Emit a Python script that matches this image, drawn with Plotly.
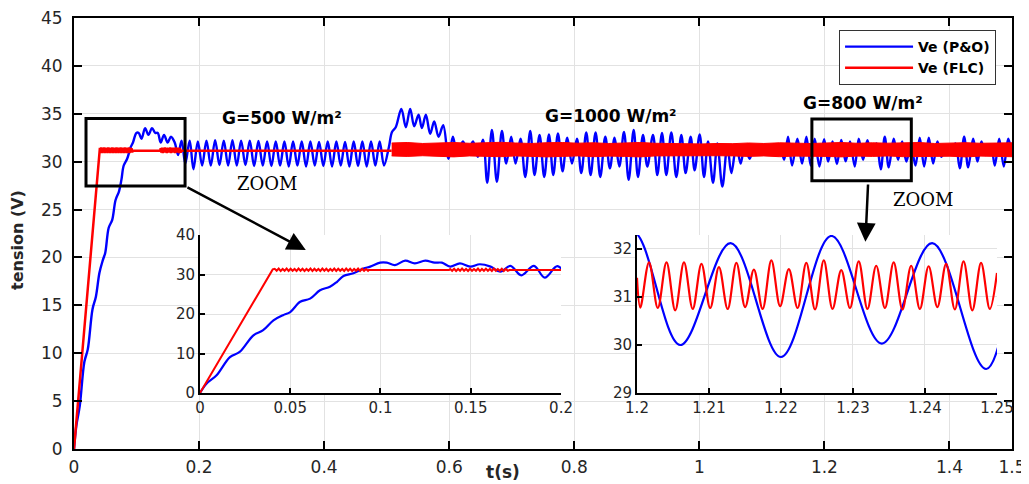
import numpy as np
import plotly.graph_objects as go

# ---------------- data ----------------
# P&O voltage, start-up (0 .. 0.2 s)
blue_start_t = [0, 0.0037, 0.0092, 0.0166, 0.022, 0.0296, 0.035, 0.0407, 0.046, 0.05, 0.0555,
                0.061, 0.0665, 0.072, 0.0758, 0.0795, 0.085, 0.0906, 0.0943, 0.0998, 0.1035,
                0.108, 0.1137, 0.119, 0.1248, 0.13, 0.134, 0.1386, 0.144, 0.1497, 0.155, 0.161,
                0.1664, 0.172, 0.178, 0.185, 0.191, 0.198]
blue_start_v = [0, 2.4, 4.5, 9.1, 10.4, 14.6, 15.9, 18.4, 19.7, 20.5, 23.1,
                23.9, 26.0, 26.9, 28.1, 29.6, 30.3, 31.5, 32.0, 33.0, 33.0,
                32.4, 33.5, 32.8, 33.5, 33.0, 33.0, 32.0, 32.8, 32.0, 32.6, 32.0,
                30.7, 32.2, 29.8, 32.2, 29.2, 32.1]

# P&O voltage, G=500 steady oscillation: extreme values every half period
blue_reg_t0 = 0.2049
blue_reg_dt = 0.006925
blue_reg_v = [29.6, 32.2, 29.6, 32.25, 29.65, 32.2, 29.6, 32.25, 29.6, 32.2, 29.65,
              32.2, 29.55, 32.15, 29.6, 32.1, 29.55, 32.1, 29.6, 32.1, 29.5, 32.1,
              29.6, 32.1, 29.5, 32.1, 29.6, 32.05, 29.55, 32.1, 29.5, 32.1, 29.6,
              32.05, 29.5, 32.1, 29.55, 32.1, 29.5, 32.1, 29.6, 32.1, 29.6]

# P&O voltage, G=1000 and G=800 parts (time, value) at the extremes
blue_late = [
    (0.5035, 31.5), (0.5085, 33.1), (0.5145, 33.6), (0.5235, 35.5), (0.5307, 33.6),
    (0.5376, 35.5), (0.544, 33.7), (0.551, 34.9), (0.5563, 33.5), (0.5627, 34.9),
    (0.5696, 32.9), (0.576, 34.2), (0.583, 32.6), (0.5904, 33.8), (0.599, 30.3),
    (0.6059, 32.6), (0.6128, 30.8), (0.622, 32.1), (0.630, 30.9), (0.638, 32.1),
    (0.6459, 30.5), (0.654, 32.3), (0.6608, 27.8), (0.6683, 33.3), (0.6763, 27.9),
    (0.6843, 33.2), (0.6912, 29.8), (0.6992, 32.6), (0.7061, 29.8), (0.7141, 32.4),
    (0.7216, 28.4), (0.7296, 33.2), (0.7365, 28.6), (0.7445, 32.8), (0.752, 28.4),
    (0.7595, 32.85), (0.7664, 28.6), (0.7739, 32.95), (0.7813, 29.0), (0.7888, 32.5),
    (0.7963, 29.8), (0.8043, 32.4), (0.8112, 28.8), (0.8192, 33.05), (0.8261, 28.6),
    (0.8341, 33.05), (0.8416, 28.4), (0.8496, 32.6), (0.857, 29.3), (0.8645, 32.5),
    (0.872, 29.5), (0.8795, 33.1), (0.887, 28.1), (0.895, 33.3), (0.9019, 28.4),
    (0.9099, 32.8), (0.9168, 29.5), (0.9259, 32.8), (0.9328, 28.6), (0.9403, 33.0),
    (0.9472, 28.6), (0.9552, 33.05), (0.9632, 28.4), (0.9712, 32.8), (0.9781, 28.8),
    (0.9861, 32.6), (0.9925, 29.1), (1.0005, 32.85), (1.0075, 28.4), (1.0139, 32.1),
    (1.0219, 27.8), (1.0288, 31.9), (1.0368, 27.4), (1.0448, 31.7), (1.0512, 28.8),
    (1.0592, 31.7), (1.0661, 29.8), (1.0725, 31.7), (1.0805, 30.3), (1.0875, 31.6),
    (1.0945, 30.8), (1.1015, 31.6), (1.1085, 30.8), (1.1155, 31.7), (1.1225, 30.7),
    (1.129, 31.8), (1.1355, 30.2), (1.1419, 32.6), (1.1483, 29.6), (1.1568, 32.4),
    (1.1643, 29.8), (1.1712, 32.6), (1.1781, 29.6), (1.1845, 32.4), (1.192, 29.5),
    (1.1995, 32.35), (1.206, 30.0), (1.213, 32.12), (1.220, 29.75), (1.227, 32.27),
    (1.234, 30.03), (1.241, 32.12), (1.2485, 29.5), (1.2549, 32.4), (1.2619, 30.2),
    (1.2688, 32.25), (1.2752, 30.7), (1.2832, 31.9), (1.2901, 29.2), (1.2965, 32.6),
    (1.3029, 29.4), (1.3109, 32.4), (1.3179, 30.2), (1.3243, 32.1), (1.3312, 30.0),
    (1.3381, 31.9), (1.3456, 29.6), (1.3525, 32.5), (1.3595, 29.5), (1.3669, 32.5),
    (1.3739, 29.8), (1.3808, 32.1), (1.3872, 30.5), (1.3952, 31.7), (1.4021, 31.0),
    (1.4096, 31.9), (1.4165, 29.3), (1.4235, 32.6), (1.4299, 29.4), (1.4379, 32.4),
    (1.4448, 30.0), (1.4512, 32.1), (1.4576, 30.7), (1.4661, 31.8), (1.4725, 29.6),
    (1.4795, 32.4), (1.4869, 29.5), (1.4939, 32.4), (1.5, 30.8)]

# FLC voltage
red_ramp_t = [0.0, 0.0403]
red_ramp_v = [0.0, 31.3]
red_rip1_t0 = 0.0414
red_rip1_dt = 0.0011
red_rip1_v = [31.45, 30.95, 31.5, 30.9, 31.4, 30.95, 31.5, 30.9, 31.45, 30.95, 31.4, 30.9,
              31.5, 30.95, 31.45, 30.9, 31.4, 30.95, 31.5, 30.9, 31.45, 30.95, 31.4, 30.9,
              31.5, 30.95, 31.45, 30.9, 31.4, 30.95, 31.5, 30.9, 31.45, 30.95, 31.4, 30.9,
              31.5, 30.95, 31.45, 30.9, 31.4, 30.95, 31.5, 30.9, 31.45, 30.95, 31.4, 30.95]
red_flat_v = 31.15
red_flat1_t = [0.0935, 0.138]
red_rip2_t0 = 0.1386
red_rip2_dt = 0.0011
red_rip2_v = [31.4, 30.95, 31.45, 30.9, 31.4, 30.95, 31.5, 30.95, 31.4, 30.9, 31.45, 30.95,
              31.4, 30.95, 31.5, 30.9, 31.4, 30.95, 31.45, 30.95, 31.4, 30.9, 31.5, 30.95,
              31.4, 30.95, 31.45, 30.9, 31.4, 30.95]
red_flat2_t = [0.1715, 0.508]
# FLC ripple envelope after the irradiance step (dense ripple drawn as a band)
band_t = np.linspace(0.508, 1.5, 41)
band_hi = [31.95, 32.0, 31.9, 31.95, 32.0, 31.92, 31.97, 32.02, 31.95, 31.9, 31.98, 32.0,
           31.93, 31.97, 31.9, 31.95, 32.0, 31.92, 31.88, 31.9, 31.85, 31.9, 31.88, 31.95,
           31.9, 31.97, 31.93, 31.9, 31.95, 32.0, 31.92, 31.97, 31.93, 31.95, 32.0, 31.9,
           31.95, 31.98, 31.92, 31.95, 31.97]
band_lo = [30.6, 30.55, 30.62, 30.58, 30.5, 30.6, 30.55, 30.52, 30.6, 30.57, 30.5, 30.55,
           30.6, 30.52, 30.58, 30.55, 30.5, 30.6, 30.62, 30.6, 30.65, 30.62, 30.6, 30.55,
           30.6, 30.52, 30.58, 30.6, 30.55, 30.5, 30.58, 30.55, 30.6, 30.52, 30.55, 30.6,
           30.57, 30.5, 30.58, 30.55, 30.52]
# FLC ripple in the 1.2-1.25 s zoom (troughs/peaks alternating)
red_zoom_start = (1.2, 31.4)
red_zoom_end = (1.25, 31.5)
red_zoom_t0 = 1.20046
red_zoom_dt = 0.0012135
red_zoom_v = [30.78, 31.72, 30.77, 31.72, 30.72, 31.72, 30.75, 31.69, 30.77, 31.62,
              30.75, 31.71, 30.79, 31.57, 30.75, 31.76, 30.81, 31.58, 30.77, 31.71,
              30.74, 31.76, 30.75, 31.56, 30.77, 31.74, 30.75, 31.65, 30.77, 31.72,
              30.74, 31.65, 30.75, 31.64, 30.79, 31.69, 30.74, 31.74, 30.72, 31.71, 30.75]

main_xticks = [0, 0.2, 0.4, 0.6, 0.8, 1, 1.2, 1.4, 1.5]
main_xlabels = ["0", "0.2", "0.4", "0.6", "0.8", "1", "1.2", "1.4", "1.5"]
zoom1_xticks = [0, 0.05, 0.1, 0.15, 0.2]
zoom1_xlabels = ["0", "0.05", "0.1", "0.15", "0.2"]
zoom2_xticks = [1.2, 1.21, 1.22, 1.23, 1.24, 1.25]
zoom2_xlabels = ["1.2", "1.21", "1.22", "1.23", "1.24", "1.25"]
labels = ["Ve (P&O)", "Ve (FLC)"]

# ---------------- assemble series ----------------
blue_t = list(blue_start_t) + [blue_reg_t0 + i * blue_reg_dt for i in range(len(blue_reg_v))] \
    + [p[0] for p in blue_late]
blue_v = list(blue_start_v) + list(blue_reg_v) + [p[1] for p in blue_late]

red_t = (red_ramp_t + [red_rip1_t0 + i * red_rip1_dt for i in range(len(red_rip1_v))]
         + red_flat1_t + [red_rip2_t0 + i * red_rip2_dt for i in range(len(red_rip2_v))]
         + red_flat2_t)
red_v = (red_ramp_v + red_rip1_v + [red_flat_v] * len(red_flat1_t) + red_rip2_v
         + [red_flat_v] * len(red_flat2_t))

rz_t = [red_zoom_start[0]] + [red_zoom_t0 + i * red_zoom_dt for i in range(len(red_zoom_v))] + [red_zoom_end[0]]
rz_v = [red_zoom_start[1]] + red_zoom_v + [red_zoom_end[1]]

BLUE = "#0000ff"
RED = "#ff0000"
TXT = "#262626"
GRID = "#e2e2e2"
FONT = "DejaVu Sans"

fig = go.Figure()
# main
fig.add_trace(go.Scatter(x=blue_t, y=blue_v, mode="lines", name=labels[0],
                         line=dict(color=BLUE, width=2.4, shape="spline", smoothing=1.0),
                         xaxis="x", yaxis="y"))
fig.add_trace(go.Scatter(x=red_t, y=red_v, mode="lines", name=labels[1],
                         line=dict(color=RED, width=2.5), xaxis="x", yaxis="y"))
fig.add_trace(go.Scatter(x=band_t, y=band_lo, mode="lines", showlegend=False,
                         line=dict(color=RED, width=1), xaxis="x", yaxis="y"))
fig.add_trace(go.Scatter(x=band_t, y=band_hi, mode="lines", showlegend=False, fill="tonexty",
                         fillcolor=RED, line=dict(color=RED, width=1), xaxis="x", yaxis="y"))
# inset 1
fig.add_trace(go.Scatter(x=blue_t, y=blue_v, mode="lines", showlegend=False,
                         line=dict(color=BLUE, width=2.2, shape="spline"), xaxis="x2", yaxis="y2"))
fig.add_trace(go.Scatter(x=red_t, y=red_v, mode="lines", showlegend=False,
                         line=dict(color=RED, width=2), xaxis="x2", yaxis="y2"))
# inset 2
fig.add_trace(go.Scatter(x=blue_t, y=blue_v, mode="lines", showlegend=False,
                         line=dict(color=BLUE, width=2.2, shape="spline"), xaxis="x3", yaxis="y3"))
fig.add_trace(go.Scatter(x=rz_t, y=rz_v, mode="lines", showlegend=False,
                         line=dict(color=RED, width=2.2, shape="spline"), xaxis="x3", yaxis="y3"))

tickfont_main = dict(family=FONT, size=17, color=TXT)
tickfont_in = dict(family=FONT, size=15, color=TXT)

common_main = dict(showline=True, linecolor="black", linewidth=2, mirror="ticks",
                   ticks="inside", ticklen=8, tickwidth=1.5, tickcolor="black",
                   showgrid=True, gridcolor=GRID, gridwidth=1, zeroline=False,
                   tickfont=tickfont_main, ticklabeloverflow="allow")
common_in = dict(showline=True, linecolor="black", linewidth=2, mirror=False,
                 ticks="inside", ticklen=5, tickwidth=1.5, tickcolor="black",
                 showgrid=True, gridcolor=GRID, gridwidth=1, zeroline=False,
                 tickfont=tickfont_in, ticklabeloverflow="allow")

in_x1 = [0.1343, 0.5192]
in_x2 = [0.6002, 0.984]
in_y = [0.1299, 0.4965]

# the page adds an 8px body margin: figure sized so that the plot lands where the reference has it
fig.update_layout(
    width=1021, height=476,
    margin=dict(l=66, r=17, t=10, b=35, autoexpand=False),
    paper_bgcolor="white", plot_bgcolor="white",
    xaxis=dict(domain=[0, 1], range=[0, 1.5], tickvals=main_xticks, ticktext=main_xlabels,
               ticklabelstandoff=2, **common_main),
    yaxis=dict(domain=[0, 1], range=[0, 45], dtick=5, ticklabelstandoff=6, **common_main),
    xaxis2=dict(domain=in_x1, anchor="y2", range=[0, 0.2], tickvals=zoom1_xticks,
                ticktext=zoom1_xlabels, **common_in),
    yaxis2=dict(domain=in_y, anchor="x2", range=[0, 40], dtick=10, **common_in),
    xaxis3=dict(domain=in_x2, anchor="y3", range=[1.2, 1.25], tickvals=zoom2_xticks,
                ticktext=zoom2_xlabels, **common_in),
    yaxis3=dict(domain=in_y, anchor="x3", range=[29, 32.29], tickvals=[29, 30, 31, 32], **common_in),
    legend=dict(x=0.983, y=0.972, xanchor="right", yanchor="top", bgcolor="white",
                bordercolor="#333333", borderwidth=1, itemwidth=68, traceorder="normal",
                font=dict(family=FONT, size=14, color="black", weight="bold"),
                tracegroupgap=0),
    showlegend=True,
)

# zoom boxes
fig.add_shape(type="rect", xref="x", yref="y", x0=0.0192, x1=0.1776, y0=27.45, y1=34.5,
              line=dict(color="black", width=3), layer="above")
fig.add_shape(type="rect", xref="x", yref="y", x0=1.180, x1=1.339, y0=28.0, y1=34.45,
              line=dict(color="black", width=3), layer="above")

# arrows
fig.add_annotation(x=0.3707, y=20.77, ax=0.179, ay=27.4, xref="x", yref="y", axref="x", ayref="y",
                   text="", showarrow=True, arrowhead=2, arrowsize=1.5, arrowwidth=2.5,
                   arrowcolor="black", standoff=0)
fig.add_annotation(x=1.2656, y=21.64, ax=1.2699, ay=27.77, xref="x", yref="y", axref="x", ayref="y",
                   text="", showarrow=True, arrowhead=2, arrowsize=1.5, arrowwidth=2.5,
                   arrowcolor="black", standoff=0)

# text
gfont = dict(family=FONT, size=17, color="black", weight="bold")
zfont = dict(family="DejaVu Serif", size=18, color="black")
for txt, x, y in [("G=500 W/m²", 0.332, 34.55), ("G=1000 W/m²", 0.859, 34.8), ("G=800 W/m²", 1.2624, 36.1)]:
    fig.add_annotation(x=x, y=y, xref="x", yref="y", text=txt, showarrow=False, font=gfont,
                       xanchor="center", yanchor="middle")
for x, y in [(0.3088, 27.77), (1.358, 26.0)]:
    fig.add_annotation(x=x, y=y, xref="x", yref="y", text="ZOOM", showarrow=False, font=zfont,
                       xanchor="center", yanchor="middle")

fig.add_annotation(x=-0.0597, y=0.485, xref="paper", yref="paper", text="tension (V)", textangle=-90,
                   xanchor="center", yanchor="middle",
                   showarrow=False, font=dict(family=FONT, size=16, color=TXT, weight="bold"))
fig.add_annotation(x=0.4574, y=-0.0534, xref="paper", yref="paper", text="t(s)",
                   xanchor="center", yanchor="middle",
                   showarrow=False, font=dict(family=FONT, size=17, color=TXT, weight="bold"))

fig.write_html("out.html", config={"displayModeBar": False})
